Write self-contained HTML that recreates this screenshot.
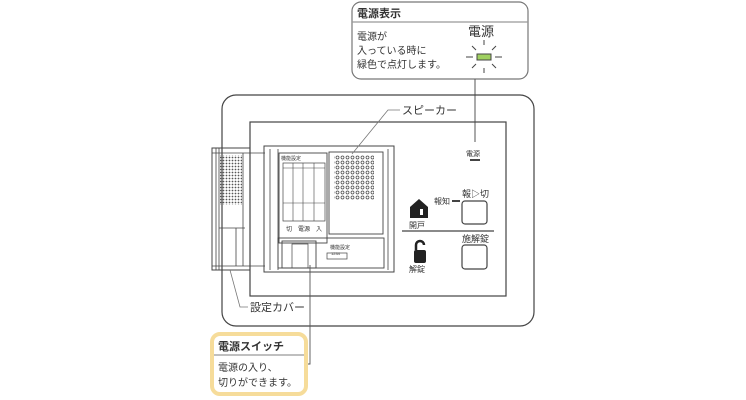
<!DOCTYPE html><html><head><meta charset="utf-8"><style>
html,body{margin:0;padding:0;background:#fff}
svg{display:block}
text{font-family:"Liberation Sans","Noto Sans CJK JP",sans-serif;fill:#333}
</style></head><body>
<svg width="746" height="400" viewBox="0 0 746 400" xmlns="http://www.w3.org/2000/svg">
<defs><pattern id="v" width="3" height="3" patternUnits="userSpaceOnUse"><circle cx="1.5" cy="1.5" r="0.9" fill="#555"/></pattern>
<pattern id="sp" width="5" height="5" patternUnits="userSpaceOnUse"><circle cx="2.5" cy="2.5" r="1.5" fill="none" stroke="#444" stroke-width="0.7"/></pattern></defs>
<g fill="none" stroke="#444" stroke-width="1.2">
<rect x="352" y="2" width="176" height="77" rx="9" stroke="#777"/>
<line x1="352" y1="22" x2="528" y2="22" stroke="#999"/>
<line x1="475" y1="79" x2="475" y2="142" stroke="#555" stroke-width="1"/>
<rect x="222" y="95" width="312" height="231" rx="14"/>
<rect x="250" y="122" width="256" height="174"/>
<rect x="212" y="148" width="38" height="122" stroke-width="1"/>
<line x1="216" y1="148" x2="216" y2="270" stroke-width="0.8"/>
<line x1="219" y1="148" x2="219" y2="270" stroke-width="0.8"/>
<line x1="243" y1="153" x2="243" y2="266" stroke-width="0.8"/>
<line x1="219" y1="228" x2="245" y2="228" stroke-width="0.8"/>
<line x1="236" y1="228" x2="236" y2="266" stroke-width="0.8"/>
<line x1="212" y1="153" x2="265" y2="153" stroke-width="0.8"/>
<line x1="212" y1="266" x2="265" y2="266" stroke-width="0.8"/>
<rect x="264" y="146" width="130" height="126" stroke-width="1"/>
<line x1="270" y1="149" x2="270" y2="270" stroke-width="0.8"/>
<line x1="278" y1="149" x2="278" y2="270" stroke-width="0.8"/>
<line x1="388" y1="149" x2="388" y2="270" stroke-width="0.8"/>
<rect x="279" y="153" width="48" height="90" stroke-width="0.9"/>
<rect x="283" y="163" width="42" height="58" stroke-width="0.7"/>
<line x1="293" y1="163" x2="293" y2="221" stroke-width="0.6"/>
<line x1="303" y1="163" x2="303" y2="221" stroke-width="0.6"/>
<line x1="314" y1="163" x2="314" y2="221" stroke-width="0.6"/>
<line x1="283" y1="168" x2="325" y2="168" stroke-width="0.6"/>
<line x1="283" y1="203" x2="325" y2="203" stroke-width="0.6"/>
<rect x="329" y="152" width="54" height="82" stroke-width="0.9"/>
<rect x="278" y="238" width="106" height="30" stroke-width="0.9"/>
<rect x="282" y="241" width="34" height="27" stroke-width="0.9"/>
<rect x="292" y="244" width="16" height="24" stroke-width="0.7"/>
<rect x="327" y="253" width="20" height="6" stroke-width="0.7"/>
<rect x="462" y="201" width="25" height="23" rx="3"/>
<rect x="462" y="245" width="25" height="24" rx="3"/>
<line x1="402" y1="231" x2="494" y2="231"/>
<line x1="470" y1="160" x2="480" y2="160" stroke-width="2"/>
<line x1="452" y1="201" x2="460" y2="201" stroke-width="2"/>
<polyline points="352,154 388,110 400,110" stroke="#777" stroke-width="0.8"/>
<polyline points="230,270 240,307 248,307" stroke="#777" stroke-width="0.8"/>
<polyline points="310,265 310,364 306,364" stroke="#555" stroke-width="0.9"/>
<rect x="212" y="334" width="94" height="60" rx="8" stroke="#f6dc9a" stroke-width="4"/>
<line x1="214" y1="355" x2="304" y2="355" stroke="#999"/>
</g>
<rect x="477" y="54" width="14" height="6" fill="#9fd060" stroke="#444" stroke-width="1"/>
<g stroke="#444" stroke-width="1"><line x1="484" y1="40" x2="484" y2="45"/><line x1="484" y1="68" x2="484" y2="73"/><line x1="466" y1="57" x2="473" y2="57"/><line x1="495" y1="57" x2="502" y2="57"/><line x1="472" y1="46" x2="476" y2="50"/><line x1="496" y1="46" x2="492" y2="50"/><line x1="472" y1="68" x2="476" y2="64"/><line x1="496" y1="68" x2="492" y2="64"/></g>
<rect x="220" y="155" width="22" height="50" fill="url(#v)"/>
<rect x="334" y="155" width="40" height="45" fill="url(#sp)"/>
<path d="M410 207 L419 199 L428 207 L428 218 L410 218 Z" fill="#222"/>
<rect x="420" y="209" width="3" height="6" fill="#fff"/>
<rect x="414" y="250" width="12" height="13" rx="2" fill="#222"/>
<path d="M416 250 v-5 a4 4 0 0 1 8 0" fill="none" stroke="#222" stroke-width="2.5"/>
<text x="357" y="17" font-size="11" font-weight="bold">電源表示</text>
<text x="357" y="40" font-size="10">電源が</text>
<text x="357" y="54" font-size="10">入っている時に</text>
<text x="357" y="68" font-size="10">緑色で点灯します。</text>
<text x="468" y="36" font-size="13">電源</text>
<text x="402" y="114" font-size="11">スピーカー</text>
<text x="466" y="156" font-size="7">電源</text>
<text x="462" y="197" font-size="9">報▷切</text>
<text x="462" y="242" font-size="9">施解錠</text>
<text x="434" y="204" font-size="8">報知</text>
<text x="409" y="228" font-size="8">開戸</text>
<text x="409" y="272" font-size="8">解錠</text>
<text x="281" y="160" font-size="5">機能設定</text>
<text x="286" y="231" font-size="6">切　電源　入</text>
<text x="330" y="249" font-size="5">機能設定</text>
<text x="331" y="255" font-size="4">1234</text>
<text x="250" y="311" font-size="11">設定カバー</text>
<text x="218" y="350" font-size="11" font-weight="bold">電源スイッチ</text>
<text x="218" y="371" font-size="10">電源の入り、</text>
<text x="218" y="386" font-size="10">切りができます。</text>
</svg>
</body></html>
